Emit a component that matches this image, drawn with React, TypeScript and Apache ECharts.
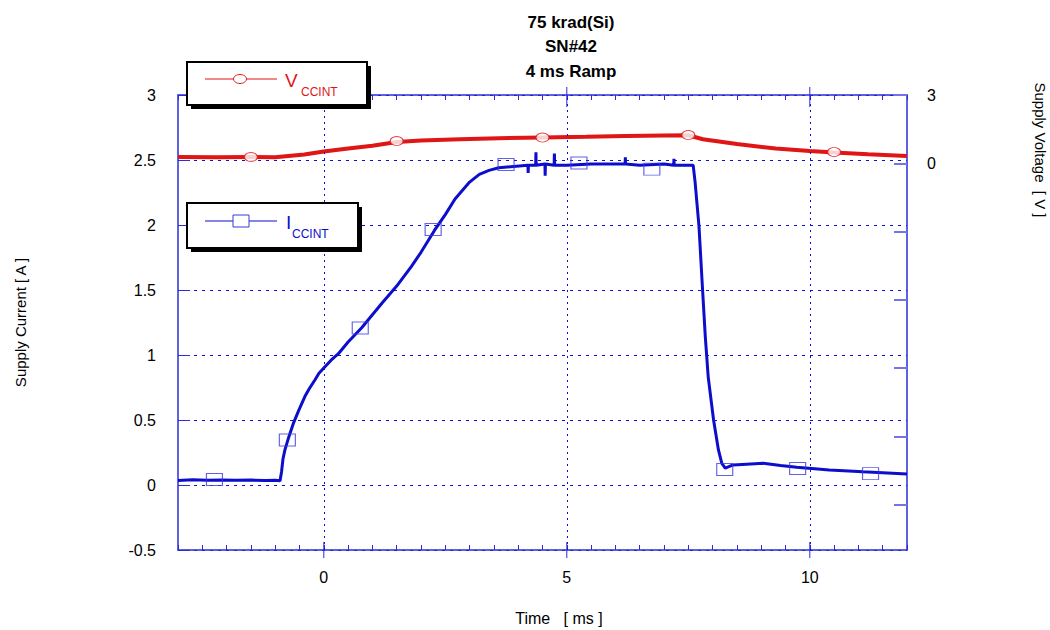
import React, { useEffect, useRef } from 'react';
import * as echarts from 'echarts';

const titleLines = ['75 krad(Si)', 'SN#42', '4 ms Ramp'];
const xTickLabels = [0, 5, 10];
const rightAxisLabels = ['3', '0'];

// Supply current trace (A) vs time (ms)
const currentTime = [
  -3, -2.7, -2.4, -2.1, -1.8, -1.5, -1.2, -1.0, -0.9, -0.87, -0.84, -0.8, -0.72, -0.62, -0.52,
  -0.39, -0.3, -0.18, -0.1, 0, 0.15, 0.3, 0.5, 0.78, 1.0, 1.2, 1.5, 1.8, 2.0, 2.28, 2.5, 2.7,
  3.0, 3.2, 3.4, 3.6, 3.9, 4.2, 4.205, 4.21, 4.36, 4.365, 4.37, 4.55, 4.555, 4.56, 4.74, 4.745,
  4.75, 5.0, 5.5, 6.0, 6.2, 6.205, 6.21, 6.5, 7.0, 7.2, 7.205, 7.21, 7.45, 7.6, 7.64, 7.72, 7.79,
  7.85, 7.91, 8.02, 8.12, 8.19, 8.26, 8.42, 8.7, 9.04, 9.4, 9.73, 10.1, 10.4, 10.8, 11.09, 11.5, 12
];
const currentValues = [
  0.035, 0.04, 0.036, 0.038, 0.037, 0.038, 0.035, 0.036, 0.033, 0.1, 0.2, 0.27, 0.37, 0.48, 0.57,
  0.68, 0.74, 0.81, 0.86, 0.9, 0.96, 1.01, 1.1, 1.21, 1.31, 1.4, 1.53, 1.68, 1.79, 1.96, 2.08, 2.2,
  2.33, 2.39, 2.42, 2.44, 2.45, 2.46, 2.4, 2.46, 2.46, 2.56, 2.46, 2.47, 2.38, 2.47, 2.46, 2.55,
  2.46, 2.46, 2.47, 2.47, 2.47, 2.52, 2.47, 2.46, 2.47, 2.46, 2.51, 2.46, 2.46, 2.46, 2.33, 1.99,
  1.525, 1.14, 0.83, 0.5, 0.27, 0.167, 0.13, 0.154, 0.16, 0.167, 0.15, 0.136, 0.125, 0.115, 0.108,
  0.102, 0.095, 0.085
];

// Supply voltage trace vs time (ms)
const voltageTime = [
  -3, -2.2, -1.5, -1.0, -0.4, 0, 0.5, 1.0, 1.5, 2.0, 2.8, 3.6, 4.5, 5.4, 6.2, 7.0, 7.5, 7.8, 8.5,
  9.3, 10, 10.5, 11.2, 12
];
const voltageValues = [
  2.523, 2.522, 2.523, 2.522, 2.542, 2.565, 2.588, 2.61, 2.638, 2.65, 2.659, 2.667, 2.674, 2.679,
  2.685, 2.688, 2.69, 2.66, 2.623, 2.588, 2.569, 2.558, 2.544, 2.531
];

const currentMarkerTime = [-2.25, -0.75, 0.75, 2.25, 3.75, 5.25, 6.75, 8.25, 9.75, 11.25];
const currentMarkerValues = [0.042, 0.346, 1.208, 1.965, 2.465, 2.477, 2.43, 0.119, 0.127, 0.088];
const voltageMarkerTime = [-1.5, 1.5, 4.5, 7.5, 10.5];
const voltageMarkerValues = [2.523, 2.646, 2.673, 2.692, 2.562];

const BLUE = '#0d0dcc';
const FRAME = '#2b2bd9';
const RED = '#e01515';
const FONT = '"Liberation Sans", Arial, sans-serif';
const Y_MIN = -0.5;
const Y_MAX = 3;

const zip = (a: number[], b: number[]) => a.map((v, i) => [v, b[i]]);

export default function App() {
  const ref = useRef<HTMLDivElement>(null);
  useEffect(() => {
    if (!ref.current) return;
    const chart = echarts.init(ref.current, null, { renderer: 'svg' });
    const gridDotH = { color: BLUE, width: 1, type: [3, 5] as any };
    const baseX = { type: 'value', min: -3, max: 12 };
    chart.setOption({
      animation: false,
      backgroundColor: '#fff',
      title: {
        text: titleLines.join('\n'),
        left: 566,
        top: 5,
        textAlign: 'center',
        textStyle: { fontFamily: FONT, fontSize: 17, fontWeight: 'bold', color: '#000', lineHeight: 24.5 },
      },
      grid: { left: 178, right: 143, top: 95, bottom: 80 },
      xAxis: [
        {
          ...baseX, position: 'bottom', interval: 0.5,
          axisLine: { show: true, onZero: false, lineStyle: { color: FRAME, width: 1.5 } },
          axisTick: { show: true, inside: true, length: 5, lineStyle: { color: FRAME, width: 1 } },
          axisLabel: {
            show: true, margin: 19, fontFamily: FONT, fontSize: 16, color: '#000',
            formatter: (v: number) => (xTickLabels.includes(v) ? String(v) : ''),
          },
          splitLine: { show: false },
        },
        {
          ...baseX, position: 'top', interval: 0.5,
          axisLine: { show: true, onZero: false, lineStyle: { color: FRAME, width: 1.5 } },
          axisTick: { show: true, inside: true, length: 5, lineStyle: { color: FRAME, width: 1 } },
          axisLabel: { show: false },
          splitLine: { show: false },
        },
      ],
      yAxis: [
        {
          type: 'value', min: Y_MIN, max: Y_MAX, interval: 0.5, position: 'left',
          name: 'Supply Current [ A ]', nameLocation: 'middle', nameGap: 150, nameRotate: 90,
          nameTextStyle: { fontFamily: FONT, fontSize: 15, color: '#000' },
          axisLine: { show: true, onZero: false, lineStyle: { color: FRAME, width: 1.5 } },
          axisTick: { show: true, inside: true, length: 12, lineStyle: { color: FRAME, width: 1 } },
          axisLabel: { margin: 22, fontFamily: FONT, fontSize: 16, color: '#000' },
          splitLine: { show: true, lineStyle: gridDotH },
        },
        {
          type: 'value', min: 0, max: 6.662, interval: 1, position: 'right', inverse: true,
          axisLine: { show: true, onZero: false, lineStyle: { color: FRAME, width: 1.5 } },
          axisTick: { show: true, inside: true, length: 13, lineStyle: { color: '#7474ea', width: 2 } },
          axisLabel: {
            margin: 20, fontFamily: FONT, fontSize: 16, color: '#000', showMaxLabel: false,
            formatter: (v: number) => (v < rightAxisLabels.length ? rightAxisLabels[v] : ''),
          },
          splitLine: { show: false },
        },
      ],
      series: [
        {
          type: 'scatter', xAxisIndex: 0, yAxisIndex: 0, data: [], z: 1, silent: true,
          markLine: {
            silent: true, symbol: 'none', label: { show: false },
            lineStyle: { color: BLUE, width: 1, type: [2, 4] },
            data: xTickLabels.map((v) => ({ xAxis: v })),
          },
        },
        {
          name: 'VCCINT', type: 'line', xAxisIndex: 0, yAxisIndex: 0, showSymbol: false, z: 3,
          data: zip(voltageTime, voltageValues),
          lineStyle: { color: RED, width: 4 },
        },
        {
          name: 'ICCINT', type: 'line', xAxisIndex: 0, yAxisIndex: 0, showSymbol: false, z: 3,
          data: zip(currentTime, currentValues),
          lineStyle: { color: BLUE, width: 3 },
        },
        {
          type: 'scatter', xAxisIndex: 0, yAxisIndex: 0, z: 4, symbol: 'circle', symbolSize: [13, 9],
          data: zip(voltageMarkerTime, voltageMarkerValues),
          itemStyle: { color: '#fff', borderColor: RED, borderWidth: 1 },
        },
        {
          type: 'scatter', xAxisIndex: 0, yAxisIndex: 0, z: 4, symbol: 'rect', symbolSize: [16, 12],
          data: zip(currentMarkerTime, currentMarkerValues),
          itemStyle: { color: 'rgba(0,0,0,0)', borderColor: '#3a3ae0', borderWidth: 1 },
        },
      ],
      graphic: [
        {
          type: 'text', x: 1040, y: 150, rotation: -Math.PI / 2, z: 10,
          style: { text: 'Supply Voltage  [ V ]', fontFamily: FONT, fontSize: 15, fill: '#000', align: 'center', verticalAlign: 'middle' },
        },
        {
          type: 'text', x: 559, y: 618, z: 10,
          style: { text: 'Time   [ ms ]', fontFamily: FONT, fontSize: 16, fill: '#000', align: 'center', verticalAlign: 'middle' },
        },
        // Legend: VCCINT
        { type: 'rect', z: 20, shape: { x: 191, y: 66, width: 180, height: 43 }, style: { fill: '#000' } },
        { type: 'rect', z: 21, shape: { x: 187, y: 62, width: 180, height: 43 }, style: { fill: '#fff', stroke: '#000', lineWidth: 2 } },
        { type: 'line', z: 22, shape: { x1: 205, y1: 79, x2: 277, y2: 79 }, style: { stroke: RED, lineWidth: 1 } },
        { type: 'ellipse', z: 23, shape: { cx: 240, cy: 79, rx: 6.5, ry: 4.5 }, style: { fill: '#fff', stroke: RED, lineWidth: 1 } },
        { type: 'text', z: 23, x: 285, y: 80, style: { text: 'V', fontFamily: FONT, fontSize: 19, fill: RED, verticalAlign: 'middle' } },
        { type: 'text', z: 23, x: 301, y: 92, style: { text: 'CCINT', fontFamily: FONT, fontSize: 12, fill: RED, verticalAlign: 'middle' } },
        // Legend: ICCINT
        { type: 'rect', z: 20, shape: { x: 191, y: 207, width: 171, height: 45 }, style: { fill: '#000' } },
        { type: 'rect', z: 21, shape: { x: 187, y: 203, width: 171, height: 45 }, style: { fill: '#fff', stroke: '#000', lineWidth: 2 } },
        { type: 'line', z: 22, shape: { x1: 205, y1: 221, x2: 277, y2: 221 }, style: { stroke: BLUE, lineWidth: 1 } },
        { type: 'rect', z: 23, shape: { x: 233, y: 215, width: 16, height: 12 }, style: { fill: '#fff', stroke: '#3a3ae0', lineWidth: 1 } },
        { type: 'text', z: 23, x: 286, y: 222, style: { text: 'I', fontFamily: FONT, fontSize: 19, fill: BLUE, verticalAlign: 'middle' } },
        { type: 'text', z: 23, x: 292, y: 234, style: { text: 'CCINT', fontFamily: FONT, fontSize: 12, fill: BLUE, verticalAlign: 'middle' } },
      ],
    });
    // Major x ticks crossing the bottom and top frame lines, placed through the axis scale
    const yBottom = chart.convertToPixel({ yAxisIndex: 0 }, Y_MIN) as number;
    const yTop = chart.convertToPixel({ yAxisIndex: 0 }, Y_MAX) as number;
    const tickEls: any[] = [];
    xTickLabels.forEach((v, i) => {
      const px = chart.convertToPixel({ xAxisIndex: 0 }, v) as number;
      tickEls.push({ id: 'mtb' + i, type: 'line', z: 6, shape: { x1: px, y1: yBottom - 8, x2: px, y2: yBottom + 8 }, style: { stroke: FRAME, lineWidth: 1 } });
      tickEls.push({ id: 'mtt' + i, type: 'line', z: 6, shape: { x1: px, y1: yTop - 8, x2: px, y2: yTop + 12 }, style: { stroke: FRAME, lineWidth: 1 } });
    });
    chart.setOption({ graphic: tickEls });
    return () => chart.dispose();
  }, []);
  return <div ref={ref} style={{ position: 'fixed', left: 0, top: 0, width: 1050, height: 630 }} />;
}
